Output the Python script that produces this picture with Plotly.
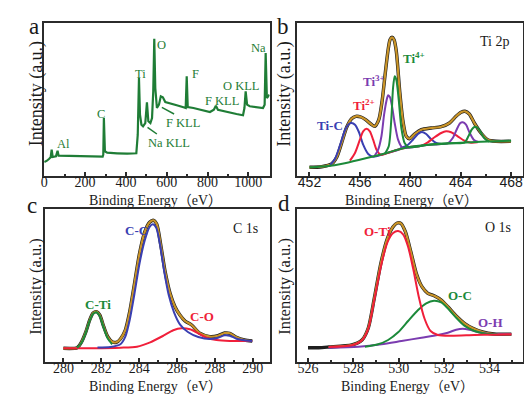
import plotly.graph_objects as go

W, H = 532, 394
SERIF = "Liberation Serif, Times New Roman, Noto Sans CJK SC, serif"
SANS = "Liberation Sans, Arial, sans-serif"
FRAME = "#2b2b2b"

# ---------------- panel a : survey ----------------
a_ev = [0, 13, 24, 31, 36, 41, 57, 65, 70, 162, 244, 286, 289, 292, 297, 308, 357, 406, 451, 458,
        464, 469, 476, 484, 495, 503, 510, 520, 528, 534, 539, 544, 552, 562, 571, 581, 593, 617,
        649, 682, 693, 698, 703, 731, 779, 812, 831, 841, 851, 893, 942, 974, 981, 987, 994, 1007,
        1039, 1072, 1080, 1085, 1091, 1104]
a_int = [12, 13.3, 15.3, 16.7, 24.3, 17, 17.7, 23.3, 18.3, 18, 17.3, 17.3, 19.3, 56, 22.7, 21.3, 20.7,
         20.3, 20.7, 39.3, 96, 59.3, 49.3, 47.7, 51, 71.7, 52.7, 51, 56, 82.7, 135.3, 86, 66, 69.3,
         77.7, 76.7, 72, 70.3, 68.7, 66.7, 66, 97.7, 67, 66, 64, 62, 64.3, 68.3, 64.3, 62, 60, 58.7,
         66, 82.7, 69.3, 67.7, 66.7, 66, 69.3, 121, 76, 79.3]

# ---------------- panel b : Ti 2p ----------------
b_env_ev = [452.0, 452.97, 453.76, 454.16, 454.55, 454.95, 455.34, 455.68, 456.08, 456.45, 456.87,
            457.18, 457.5, 457.76, 458.03, 458.24, 458.39, 458.55, 458.71, 458.89, 459.16, 459.42,
            459.68, 459.95, 460.34, 460.87, 461.66, 462.45, 463.11, 463.63, 464.03, 464.34, 464.68,
            465.08, 465.61, 466.13, 466.79, 467.97]
b_env = [6.7, 7.3, 10, 16.7, 31, 46.7, 55.3, 57.7, 57, 54.3, 50, 47.7, 54.3, 72.7, 102.7, 124.3, 134.3,
         136.7, 134.3, 122.7, 82.7, 52.7, 37.7, 35.3, 40, 44.3, 46, 47.3, 51, 57.7, 61.7, 62.7, 60, 51,
         41, 34.3, 32.7, 32.7]
b_tic_ev = [453.63, 454.03, 454.42, 454.82, 455.13, 455.34, 455.61, 455.92, 456.26, 456.66, 457.05,
            458.24, 459.03, 459.29, 459.82, 460.21, 460.61, 460.92, 461.26, 461.66, 462.05, 462.45]
b_tic = [8.7, 15.3, 28.7, 43.7, 50, 51, 49.3, 42, 29.3, 20, 17.3, 21.3, 24.3, 26, 29.3, 34.3, 40, 42,
         40, 34.7, 31, 30]
b_ti2_ev = [455.21, 455.61, 456.0, 456.26, 456.53, 456.79, 457.05, 457.32, 457.66, 457.97, 459.0,
            460.0, 460.87, 461.39, 461.92, 462.45, 462.84, 463.24, 463.76, 464.29, 464.82, 465.34]
b_ti2 = [13.3, 21, 34.3, 42.7, 45.3, 42.7, 34.3, 24.3, 19.3, 20, 24.3, 27, 28.3, 31.7, 36.7, 41, 42.7,
         41.7, 37.7, 33.3, 31.3, 31.7]
b_ti3_ev = [457.13, 457.45, 457.71, 457.92, 458.11, 458.24, 458.39, 458.55, 458.76, 459.03, 459.34,
            459.68, 461.0, 462.2, 462.97, 463.37, 463.71, 463.97, 464.16, 464.42, 464.68, 465.03,
            465.39]
b_ti3 = [17.3, 24.3, 37.7, 59.3, 73.3, 78.7, 76.7, 67.7, 51, 34.3, 26.7, 26, 28.5, 29.8, 30.7, 36,
         45.3, 51, 51.7, 49.3, 42, 34.3, 32]
b_ti4_ev = [457.97, 458.29, 458.5, 458.63, 458.76, 458.89, 459.08, 459.29, 459.55, 459.87, 461.5,
            463.0, 464.29, 464.61, 464.87, 465.08, 465.29, 465.55, 465.87, 466.26]
b_ti4 = [20, 27.7, 56, 86, 97.7, 94.3, 74.3, 46, 31, 26.7, 29.5, 30.8, 31.3, 37.7, 44.3, 47, 46.7,
         42.7, 36, 32.3]
b_bg_ev = [452.0, 453.5, 454.6, 455.9, 457.2, 458.2, 459.0, 459.8, 461.1, 462.5, 464.0, 465.6, 468.0]
b_bg = [6.7, 8.0, 10.3, 14.0, 18.0, 21.3, 24.3, 26.7, 28.7, 30.0, 31.3, 32.3, 33.3]

# ---------------- panel c : C 1s ----------------
c_env_ev = [280, 280.73, 280.94, 281.17, 281.4, 281.57, 281.75, 281.92, 282.13, 282.34, 282.57, 282.8,
            283.01, 283.27, 283.5, 283.74, 284.02, 284.3, 284.55, 284.76, 284.93, 285.14, 285.37,
            285.63, 285.89, 286.15, 286.42, 286.77, 287.2, 287.73, 288.16, 288.51, 288.78, 289.13,
            289.56, 289.97]
c_env = [13.7, 14.3, 19.3, 29.3, 42.7, 49, 50.3, 47, 35.3, 25.3, 20.3, 19.7, 23, 32, 50.3, 77, 108.7,
         130.3, 139.7, 141.7, 137.7, 117, 90.3, 68.7, 55.3, 47, 41, 37, 28.7, 25.3, 26.3, 29, 28.7,
         24.7, 22, 21]
c_cti_ev = [280.73, 280.94, 281.17, 281.4, 281.57, 281.75, 281.92, 282.13, 282.34, 282.57]
c_cti = [14.3, 18.7, 28.7, 42, 48.3, 49.7, 46, 34.3, 23.7, 17.7]
c_cc_ev = [281.8, 282.48, 283.01, 283.27, 283.5, 283.74, 284.02, 284.3, 284.55, 284.72, 284.9, 285.1,
           285.31, 285.56, 285.84, 286.15, 286.59, 287.12, 287.73, 288.16, 288.51, 288.78, 289.13,
           289.56, 289.97]
c_cc = [14.5, 15, 17.7, 25.3, 42, 67, 98.7, 122, 135, 137.7, 134.3, 117.7, 92, 67, 49.7, 37.7, 29.7,
        25, 23, 24.3, 26.7, 26.3, 23.3, 21.7, 21]
c_co_ev = [280, 281.61, 283.01, 283.88, 284.58, 285.28, 285.8, 286.24, 286.68, 287.12, 287.55, 288.08,
           288.78, 289.48, 289.97]
c_co = [13.7, 13.7, 14.3, 15.3, 19.7, 26.3, 31.7, 33.7, 32.7, 28.7, 24.3, 22, 21, 21, 21]

# ---------------- panel d : O 1s ----------------
d_lead_ev = [526.0, 526.47]
d_lead = [14.3, 14.3]
d_env_ev = [526.91, 527.93, 528.39, 528.66, 528.92, 529.21, 529.5, 529.75, 529.93, 530.09, 530.29,
            530.53, 530.77, 531.02, 531.28, 531.58, 531.87, 532.16, 532.53, 532.89, 533.26, 533.69,
            534.2, 534.96]
d_env = [15, 17, 22.3, 34.3, 63.7, 98.7, 123.7, 135.3, 139, 138.7, 130.3, 110.3, 88.7, 75.3, 68.7, 66,
         62, 55.3, 46, 38.7, 33.7, 30, 28, 27.7]
d_oti_ev = [526.91, 527.93, 528.39, 528.66, 528.92, 529.21, 529.5, 529.75, 529.97, 530.19, 530.41,
            530.63, 530.88, 531.14, 531.4, 531.72, 532.31, 533.33, 534.2, 534.96]
d_oti = [15, 16.7, 22, 33.7, 62, 95.3, 119.7, 129, 131, 127.7, 115.3, 93.7, 65.3, 43, 31, 27, 26.3, 27,
         27.3, 27.7]
d_oc_ev = [528.51, 529.09, 529.53, 529.97, 530.41, 530.85, 531.21, 531.55, 531.87, 532.16, 532.53,
           532.89, 533.33, 533.84, 534.35]
d_oc = [15.3, 17.7, 22, 29.7, 41, 52, 58.7, 61.3, 59.7, 53.7, 44.3, 36.3, 31, 28.3, 27.7]
d_oh_ev = [526.91, 528.22, 529.24, 530.12, 531.0, 531.72, 532.16, 532.53, 532.82, 533.11, 533.47,
           533.91, 534.5, 534.96]
d_oh = [14.3, 15.3, 17.7, 21, 24.3, 27, 29.3, 32.3, 33.3, 32.3, 30, 28.3, 27.7, 27.7]

ORANGE = "#c99428"
BLUE = "#3a3fb2"
RED = "#f01f3a"
PURPLE = "#7b3cb0"
GREEN = "#1c8a3a"
SGREEN = "#1f7d36"
BLACK = "#1e1e1e"

fig = go.Figure()


def line(x, y, color, width, ax, smooth=True):
    fig.add_trace(go.Scatter(
        x=x, y=y, mode="lines", xaxis="x" + ax, yaxis="y" + ax, showlegend=False,
        line=dict(color=color, width=width, shape="spline" if smooth else "linear",
                  smoothing=0.7 if smooth else None),
        hoverinfo="skip"))


# panel a
line(a_ev, a_int, SGREEN, 2.2, "", smooth=False)
# panel b
line(b_env_ev, b_env, BLACK, 3.4, "2")
line(b_env_ev, b_env, ORANGE, 2.2, "2")
line(b_tic_ev, b_tic, BLUE, 2, "2")
line(b_ti2_ev, b_ti2, RED, 2, "2")
line(b_ti3_ev, b_ti3, PURPLE, 2, "2")
line(b_ti4_ev, b_ti4, GREEN, 2, "2")
line(b_bg_ev, b_bg, GREEN, 2, "2")
# panel c
line(c_env_ev, c_env, BLACK, 3.4, "3")
line(c_env_ev, c_env, ORANGE, 2.2, "3")
line(c_co_ev, c_co, RED, 2, "3")
line(c_cc_ev, c_cc, BLUE, 2, "3")
line(c_cti_ev, c_cti, GREEN, 2, "3")
# panel d
line(d_lead_ev + d_env_ev, d_lead + d_env, BLACK, 3.4, "4")
line(d_env_ev, d_env, ORANGE, 2.2, "4")
line(d_oh_ev, d_oh, PURPLE, 2, "4")
line(d_oc_ev, d_oc, GREEN, 2, "4")
line(d_oti_ev, d_oti, RED, 2, "4")


def px(x):
    return x / W


def py(y):
    return 1 - y / H


def xax(dom, rng, dtick, minor, fam, anchor):
    return dict(domain=[px(dom[0]), px(dom[1])], range=rng, dtick=dtick, tick0=0,
                ticks="inside", ticklen=4, tickwidth=1.5, tickcolor=FRAME,
                minor=dict(ticks="inside", ticklen=2.5, tickwidth=1.5, dtick=minor, tick0=0,
                           tickcolor=FRAME),
                showline=True, mirror=True, linewidth=2, linecolor=FRAME, showgrid=False,
                zeroline=False, anchor=anchor, ticklabelstandoff=-8,
                tickfont=dict(family=fam, size=14, color="#1a1a1a"))


def yax(dom, rng, anchor):
    return dict(domain=[py(dom[1]), py(dom[0])], range=rng, showticklabels=False, ticks="",
                showline=True, mirror=True, linewidth=2, linecolor=FRAME, showgrid=False,
                zeroline=False, anchor=anchor)


TOP = (15, 168)
BOT = (201, 354)
fig.update_layout(
    width=W, height=H, margin=dict(l=0, r=0, t=0, b=0),
    paper_bgcolor="white", plot_bgcolor="white",
    xaxis=xax((33.3, 260), [-1, 1104], 200, 100, SERIF, "y"),
    yaxis=yax(TOP, [-2, 151], "x"),
    xaxis2=xax((287.5, 515), [451, 468.95], 4, 2, SANS, "y2"),
    yaxis2=yax(TOP, [-2, 151], "x2"),
    xaxis3=xax((34, 260), [279.02, 290.88], 2, 1, SERIF, "y3"),
    yaxis3=yax(BOT, [0, 153], "x3"),
    xaxis4=xax((287.5, 515.3), [525.51, 535.49], 2, 1, SERIF, "y4"),
    yaxis4=yax(BOT, [0, 153], "x4"),
)

anns = []


def ann(text, x, y, color="#1a1a1a", size=13, family=SERIF, angle=0):
    anns.append(dict(text=text, x=px(x), y=py(y), xref="paper", yref="paper", showarrow=False,
                     xanchor="center", yanchor="middle", textangle=angle,
                     font=dict(family=family, size=size, color=color)))


# panel letters
ann("a", 23.5, 19, size=23)
ann("b", 273.5, 19, size=23)
ann("c", 21, 198, size=23)
ann("d", 274.5, 196, size=23)
# axis titles
for cx, cy in [(145, 192), (403, 192), (145, 378), (399, 378)]:
    ann("Binding Energy（eV）", cx, cy, size=14)
for cx, cy, s in [(25.5, 86, 18), (274.3, 86, 18), (24, 278, 16.5), (274.3, 278, 16.5)]:
    ann("Intensity (a.u.)", cx, cy, size=s, angle=-90)

# panel a labels
for t, x, y in [("Al", 53, 135.8), ("C", 90.5, 106.3), ("Ti", 130, 65.7), ("O", 151.7, 36.7),
                ("F", 186, 65.7), ("Na", 249.2, 40), ("O KLL", 231.5, 78.5), ("F KLL", 212, 92.5),
                ("F KLL", 173.3, 114.7), ("Na KLL", 158.5, 135.3)]:
    ann(t, x, y, color=SGREEN, size=12.5)

# panel b labels
ann("<b>Ti-C</b>", 321, 117, color=BLUE)
ann("<b>Ti<sup>2+</sup></b>", 355.3, 97, color=RED)
ann("<b>Ti<sup>3+</sup></b>", 365, 73, color=PURPLE)
ann("<b>Ti<sup>4+</sup></b>", 405, 50, color=GREEN)
ann("Ti 2p", 486, 33.3, size=14)
# panel c labels
ann("<b>C-Ti</b>", 87.2, 296.5, color=GREEN)
ann("<b>C-C</b>", 125.8, 222.7, color=BLUE)
ann("<b>C-O</b>", 192.5, 308.3, color=RED)
ann("C 1s", 235.8, 220.3, size=14)
# panel d labels
ann("<b>O-Ti</b>", 368.5, 223.7, color=RED)
ann("<b>O-C</b>", 451.8, 287, color=GREEN)
ann("<b>O-H</b>", 482.7, 314.2, color=PURPLE)
ann("O 1s", 489.3, 219.3, size=14)

shapes = []
for x0, y0, x1, y1 in [(151.7, 99.3, 164, 106), (137.3, 119.3, 146.7, 126)]:
    shapes.append(dict(type="line", xref="paper", yref="paper", x0=px(x0), y0=py(y0),
                       x1=px(x1), y1=py(y1), line=dict(color=SGREEN, width=1.5)))

fig.update_layout(annotations=anns, shapes=shapes)
fig.write_html("out.html")
